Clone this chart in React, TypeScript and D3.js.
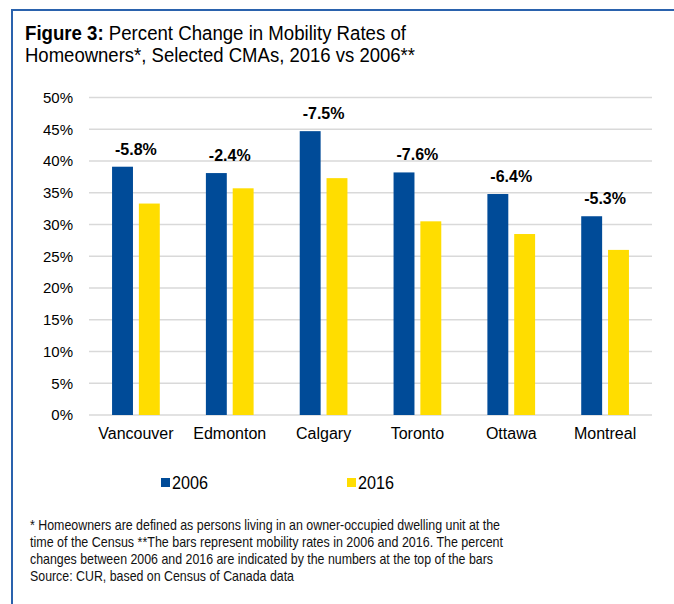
import React from "react";
import * as d3 from "d3";

const cities = ["Vancouver", "Edmonton", "Calgary", "Toronto", "Ottawa", "Montreal"];
const years = ["2006", "2016"];
const rates2006 = [39.1, 38.1, 44.7, 38.2, 34.8, 31.3];
const rates2016 = [33.3, 35.7, 37.3, 30.5, 28.5, 26.0];
const changeLabels = ["-5.8%", "-2.4%", "-7.5%", "-7.6%", "-6.4%", "-5.3%"];
const yTicks = [0, 5, 10, 15, 20, 25, 30, 35, 40, 45, 50];
const footnotes = [
  "* Homeowners are defined as persons living in an owner-occupied dwelling unit at the",
  "time of the Census  **The bars represent mobility rates in 2006 and 2016. The percent",
  "changes between 2006 and 2016 are indicated by the numbers at the top of the bars",
  "Source: CUR, based on Census of Canada data",
];

const W = 674;
const H = 604;
const BLUE = "#004b98";
const YELLOW = "#ffdd00";
const FONT = "'Liberation Sans', Arial, Helvetica, sans-serif";

const App = () => {
  // plot area
  const left = 89;
  const right = 652;
  const top = 97.5;
  const bottom = 415;

  const x0 = d3.scaleBand<string>().domain(cities).range([left, right]);
  const x1 = d3
    .scaleBand<string>()
    .domain(years)
    .range([0, x0.bandwidth()])
    .paddingInner(0.22)
    .paddingOuter(0.86);
  const y = d3.scaleLinear().domain([0, 50]).range([bottom, top]);

  const series = [rates2006, rates2016];
  const colors = [BLUE, YELLOW];
  // text is a little condensed in the source, squeeze to match widths
  const footWidths = [470, 473, 463, 264];

  return (
    <svg
      width={W}
      height={H}
      style={{ position: "absolute", left: 0, top: 0, background: "#fff" }}
      fontFamily={FONT}
    >
      {/* frame */}
      <line x1={12} x2={W} y1={10} y2={10} stroke="#2a62ad" strokeWidth={2} />
      <line x1={12} x2={12} y1={9} y2={H} stroke="#2a62ad" strokeWidth={2} />

      {/* title */}
      <text x={25} y={40} fontSize={20} fill="#000" textLength={381} lengthAdjust="spacingAndGlyphs">
        <tspan fontWeight="bold">Figure 3:</tspan> Percent Change in Mobility Rates of
      </text>
      <text x={25} y={62} fontSize={20} fill="#000" textLength={390} lengthAdjust="spacingAndGlyphs">
        Homeowners*, Selected CMAs, 2016 vs 2006**
      </text>

      {/* grid + y labels */}
      {yTicks.map((t) => (
        <g key={t}>
          <line x1={left} x2={right} y1={y(t)} y2={y(t)} stroke="#d9d9d9" strokeWidth={1.6} />
          <text x={73} y={y(t)} dy="0.35em" textAnchor="end" fontSize={15} fill="#000">
            {t}%
          </text>
        </g>
      ))}

      {/* bars */}
      {cities.map((c, i) => (
        <g key={c} transform={`translate(${x0(c)},0)`}>
          {years.map((yr, j) => (
            <rect
              key={yr}
              x={x1(yr)}
              y={y(series[j][i])}
              width={x1.bandwidth()}
              height={bottom - y(series[j][i])}
              fill={colors[j]}
            />
          ))}
          <text
            x={x0.bandwidth() / 2}
            y={y(rates2006[i]) - 12}
            textAnchor="middle"
            fontSize={16}
            fontWeight="bold"
            fill="#000"
          >
            {changeLabels[i]}
          </text>
          <text x={x0.bandwidth() / 2} y={439} textAnchor="middle" fontSize={16} fill="#000">
            {c}
          </text>
        </g>
      ))}

      {/* legend */}
      {years.map((yr, j) => {
        const lx = j === 0 ? 161 : 347;
        return (
          <g key={yr}>
            <rect x={lx} y={478} width={9} height={9} fill={colors[j]} />
            <text
              x={lx + 11}
              y={489}
              fontSize={19}
              fill="#000"
              textLength={36}
              lengthAdjust="spacingAndGlyphs"
            >
              {yr}
            </text>
          </g>
        );
      })}

      {/* footnote */}
      {footnotes.map((f, i) => (
        <text
          key={i}
          x={30}
          y={529.5 + i * 17.3}
          fontSize={14.5}
          fill="#111"
          textLength={footWidths[i]}
          lengthAdjust="spacingAndGlyphs"
        >
          {f}
        </text>
      ))}
    </svg>
  );
};

export default App;
